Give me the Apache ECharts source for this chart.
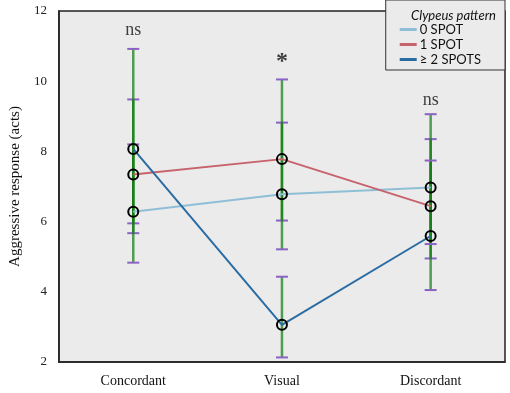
<!DOCTYPE html>
<html>
<head>
<meta charset="utf-8">
<script src="https://cdn.jsdelivr.net/npm/echarts@6/dist/echarts.min.js"></script>
<style>
  html, body { margin: 0; padding: 0; background: #fff; }
  #main { width: 510px; height: 393px; }
</style>
</head>
<body>
<div id="main"></div>
<script>
// categories and group means
var categories = ['Concordant', 'Visual', 'Discordant'];
var spot0 = [6.28, 6.78, 6.97];
var spot1 = [7.34, 7.78, 6.44];
var spot2 = [8.07, 3.06, 5.59];

// error bar ends (low / high)
var spot0Low = [5.95, 6.03, 4.95];
var spot0High = [8.20, 8.82, 8.35];
var spot1Low = [5.67, 5.21, 4.05];
var spot1High = [9.48, 10.05, 9.06];
var spot2Low = [4.83, 2.13, 5.36];
var spot2High = [10.92, 4.43, 7.74];

// significance marks above each group
var sigText = ['ns', '*', 'ns'];
var sigY = [11.46, 10.55, 9.46];

var myChart = echarts.init(document.getElementById('main'));

function errRows(lo, hi) {
    return lo.map(function (v, i) { return [i, v, hi[i]]; });
}

var serif = '"Liberation Serif", "DejaVu Serif", serif';

var option = {
    animation: false,
    title: {
        text: 'Clypeus pattern',
        right: 9,
        top: 4,
        textStyle: {
            fontFamily: 'Lato',
            fontStyle: 'italic',
            fontWeight: 'normal',
            fontSize: 13,
            color: '#111'
        }
    },
    legend: {
        data: [
            { name: '0 SPOT', itemStyle: { color: '#8fbfd6', borderWidth: 0 } },
            { name: '1 SPOT', itemStyle: { color: '#c7636c', borderWidth: 0 } },
            { name: '\u2265 2 SPOTS', itemStyle: { color: '#2b6ca3', borderWidth: 0 } }
        ],
        orient: 'vertical',
        right: 5,
        top: 0,
        padding: [23, 24, 4, 14],
        itemGap: 2,
        itemWidth: 17,
        itemHeight: 3,
        icon: 'rect',
        backgroundColor: '#ebebeb',
        borderColor: '#333',
        borderWidth: 1,
        textStyle: { fontFamily: 'Lato', fontSize: 13, color: '#111', padding: [0, 0, 0, -2] }
    },
    grid: {
        left: 58,
        right: 5,
        top: 11,
        bottom: 31,
        show: true,
        backgroundColor: '#ebebeb',
        borderColor: '#222',
        borderWidth: 1.5
    },
    xAxis: {
        type: 'category',
        data: categories,
        axisLine: { show: true, lineStyle: { color: '#222', width: 1.5 } },
        axisTick: { alignWithLabel: true, length: 7, lineStyle: { color: '#222', width: 1.5 } },
        axisLabel: { fontFamily: serif, fontSize: 14, color: '#111', margin: 12 },
        splitLine: { show: false }
    },
    yAxis: {
        type: 'value',
        min: 2,
        max: 12,
        interval: 2,
        name: 'Aggressive response (acts)',
        nameLocation: 'middle',
        nameGap: 33,
        nameTextStyle: { fontFamily: serif, fontSize: 15, color: '#111' },
        axisLine: { show: true, lineStyle: { color: '#222', width: 1.5 } },
        axisTick: { length: 9, lineStyle: { color: '#222', width: 1.5 } },
        axisLabel: { fontFamily: serif, fontSize: 13, color: '#222', margin: 12 },
        splitLine: { show: false }
    },
    series: [
        { type: 'custom', name: 'err0', z: 2, data: errRows(spot0Low, spot0High), renderItem: renderErr },
        { type: 'custom', name: 'err1', z: 2, data: errRows(spot1Low, spot1High), renderItem: renderErr },
        { type: 'custom', name: 'err2', z: 2, data: errRows(spot2Low, spot2High), renderItem: renderErr },
        lineSeries('0 SPOT', spot0, '#8fbfd6'),
        lineSeries('1 SPOT', spot1, '#c7636c'),
        lineSeries('\u2265 2 SPOTS', spot2, '#2b6ca3'),
        {
            type: 'scatter',
            name: 'sig',
            symbolSize: 0,
            z: 6,
            data: sigY.map(function (v, i) {
                return {
                    value: [i, v],
                    label: sigText[i] === '*' ? { fontSize: 24, fontWeight: 'bold' } : {}
                };
            }),
            label: {
                show: true,
                position: 'inside',
                formatter: function (p) { return sigText[p.dataIndex]; },
                fontFamily: serif,
                fontSize: 18,
                color: '#111'
            }
        }
    ]
};

function lineSeries(name, values, color) {
    return {
        type: 'line',
        name: name,
        data: values,
        z: 4,
        symbol: 'circle',
        symbolSize: 10,
        lineStyle: { color: color, width: 2 },
        itemStyle: { color: 'rgba(0,0,0,0)', borderColor: '#000', borderWidth: 2 },
        emphasis: { disabled: true }
    };
}

function renderErr(params, api) {
    var x = api.value(0);
    var lo = api.coord([x, api.value(1)]);
    var hi = api.coord([x, api.value(2)]);
    var half = 6;
    return {
        type: 'group',
        children: [
            {
                type: 'line',
                shape: { x1: lo[0], y1: lo[1], x2: hi[0], y2: hi[1] },
                style: { stroke: 'rgba(20,125,20,0.72)', lineWidth: 2.5 }
            },
            {
                type: 'line',
                shape: { x1: lo[0] - half, y1: lo[1], x2: lo[0] + half, y2: lo[1] },
                style: { stroke: '#8a63c4', lineWidth: 2 }
            },
            {
                type: 'line',
                shape: { x1: hi[0] - half, y1: hi[1], x2: hi[0] + half, y2: hi[1] },
                style: { stroke: '#8a63c4', lineWidth: 2 }
            }
        ]
    };
}

myChart.setOption(option);
</script>
</body>
</html>
